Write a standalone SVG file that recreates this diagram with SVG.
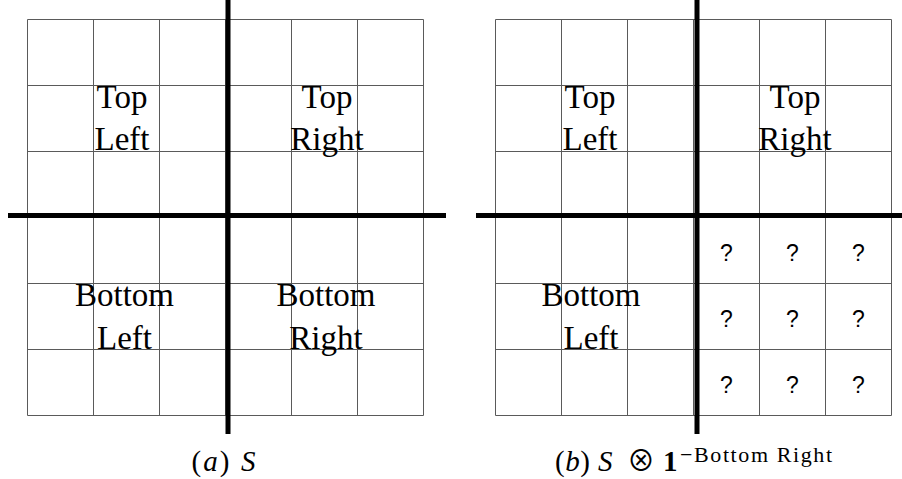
<svg xmlns="http://www.w3.org/2000/svg" width="902" height="479" viewBox="0 0 902 479">
<style>
.grid line{stroke:#5a5a5a;stroke-width:1;fill:none}
.div{stroke:#000;stroke-width:5;fill:none}
.lbl{font-family:"Liberation Serif","Times New Roman",serif;font-size:33px;fill:#000;text-anchor:middle}
.q{font-family:"Liberation Sans",Arial,sans-serif;font-size:23px;fill:#000;text-anchor:middle}
.cap{font-family:"Liberation Serif","Times New Roman",serif;font-size:29px;fill:#000}
</style>
<rect width="902" height="479" fill="#fff"/>
<g id="panel-a">
  <g id="grid-a" class="grid">
    <line x1="27.5" y1="19.5" x2="27.5" y2="415.5"/>
    <line x1="93.5" y1="19.5" x2="93.5" y2="415.5"/>
    <line x1="159.5" y1="19.5" x2="159.5" y2="415.5"/>
    <line x1="225.5" y1="19.5" x2="225.5" y2="415.5"/>
    <line x1="291.5" y1="19.5" x2="291.5" y2="415.5"/>
    <line x1="357.5" y1="19.5" x2="357.5" y2="415.5"/>
    <line x1="423.5" y1="19.5" x2="423.5" y2="415.5"/>
    <line x1="27.5" y1="19.5" x2="423.5" y2="19.5"/>
    <line x1="27.5" y1="85.5" x2="423.5" y2="85.5"/>
    <line x1="27.5" y1="151.5" x2="423.5" y2="151.5"/>
    <line x1="27.5" y1="217.5" x2="423.5" y2="217.5"/>
    <line x1="27.5" y1="283.5" x2="423.5" y2="283.5"/>
    <line x1="27.5" y1="349.5" x2="423.5" y2="349.5"/>
    <line x1="27.5" y1="415.5" x2="423.5" y2="415.5"/>
  </g>
  <g id="a-top-left"><text class="lbl" x="122" y="108">Top</text><text class="lbl" x="122" y="150">Left</text></g>
  <g id="a-top-right"><text class="lbl" x="327" y="108">Top</text><text class="lbl" x="327" y="150">Right</text></g>
  <g id="a-bottom-left"><text class="lbl" x="124.5" y="306">Bottom</text><text class="lbl" x="124.5" y="349">Left</text></g>
  <g id="a-bottom-right"><text class="lbl" x="326" y="306">Bottom</text><text class="lbl" x="326" y="349">Right</text></g>
  <g id="dividers-a">
    <line class="div" x1="228" y1="0" x2="228" y2="434"/>
    <line class="div" x1="8" y1="215.5" x2="446" y2="215.5"/>
  </g>
  <g id="caption-a">
    <text class="cap" x="191.5" y="471" textLength="38" lengthAdjust="spacing">(<tspan font-style="italic">a</tspan>)</text>
    <text class="cap" x="241" y="471" font-style="italic">S</text>
  </g>
</g>
<g id="panel-b">
  <g id="grid-b" class="grid">
    <line x1="495.5" y1="19.5" x2="495.5" y2="415.5"/>
    <line x1="561.5" y1="19.5" x2="561.5" y2="415.5"/>
    <line x1="627.5" y1="19.5" x2="627.5" y2="415.5"/>
    <line x1="693.5" y1="19.5" x2="693.5" y2="415.5"/>
    <line x1="759.5" y1="19.5" x2="759.5" y2="415.5"/>
    <line x1="825.5" y1="19.5" x2="825.5" y2="415.5"/>
    <line x1="891.5" y1="19.5" x2="891.5" y2="415.5"/>
    <line x1="495.5" y1="19.5" x2="891.5" y2="19.5"/>
    <line x1="495.5" y1="85.5" x2="891.5" y2="85.5"/>
    <line x1="495.5" y1="151.5" x2="891.5" y2="151.5"/>
    <line x1="495.5" y1="217.5" x2="891.5" y2="217.5"/>
    <line x1="495.5" y1="283.5" x2="891.5" y2="283.5"/>
    <line x1="495.5" y1="349.5" x2="891.5" y2="349.5"/>
    <line x1="495.5" y1="415.5" x2="891.5" y2="415.5"/>
  </g>
  <g id="b-top-left"><text class="lbl" x="590" y="108">Top</text><text class="lbl" x="590" y="150">Left</text></g>
  <g id="b-top-right"><text class="lbl" x="795" y="108">Top</text><text class="lbl" x="795" y="150">Right</text></g>
  <g id="b-bottom-left"><text class="lbl" x="591" y="306">Bottom</text><text class="lbl" x="591" y="349">Left</text></g>
  <g id="b-bottom-right">
    <text class="q" x="726.5" y="261">?</text><text class="q" x="792.5" y="261">?</text><text class="q" x="858.5" y="261">?</text>
    <text class="q" x="726.5" y="327">?</text><text class="q" x="792.5" y="327">?</text><text class="q" x="858.5" y="327">?</text>
    <text class="q" x="726.5" y="393">?</text><text class="q" x="792.5" y="393">?</text><text class="q" x="858.5" y="393">?</text>
  </g>
  <g id="dividers-b">
    <line class="div" x1="697" y1="0" x2="697" y2="434"/>
    <line class="div" x1="476" y1="215.5" x2="902" y2="215.5"/>
  </g>
  <g id="caption-b">
    <text class="cap" x="555" y="471" textLength="35" lengthAdjust="spacing">(<tspan font-style="italic">b</tspan>)</text>
    <text class="cap" x="598" y="471" font-style="italic">S</text>
    <text x="641" y="471" font-family="'Noto Sans CJK JP','DejaVu Sans',sans-serif" font-size="28" fill="#000" text-anchor="middle">⊗</text>
    <text class="cap" x="663" y="471" font-weight="bold">1</text>
    <text x="680" y="461.5" font-family="'Liberation Serif','Times New Roman',serif" font-size="22" fill="#000" textLength="152" lengthAdjust="spacing">−Bottom Right</text>
  </g>
</g>
</svg>
